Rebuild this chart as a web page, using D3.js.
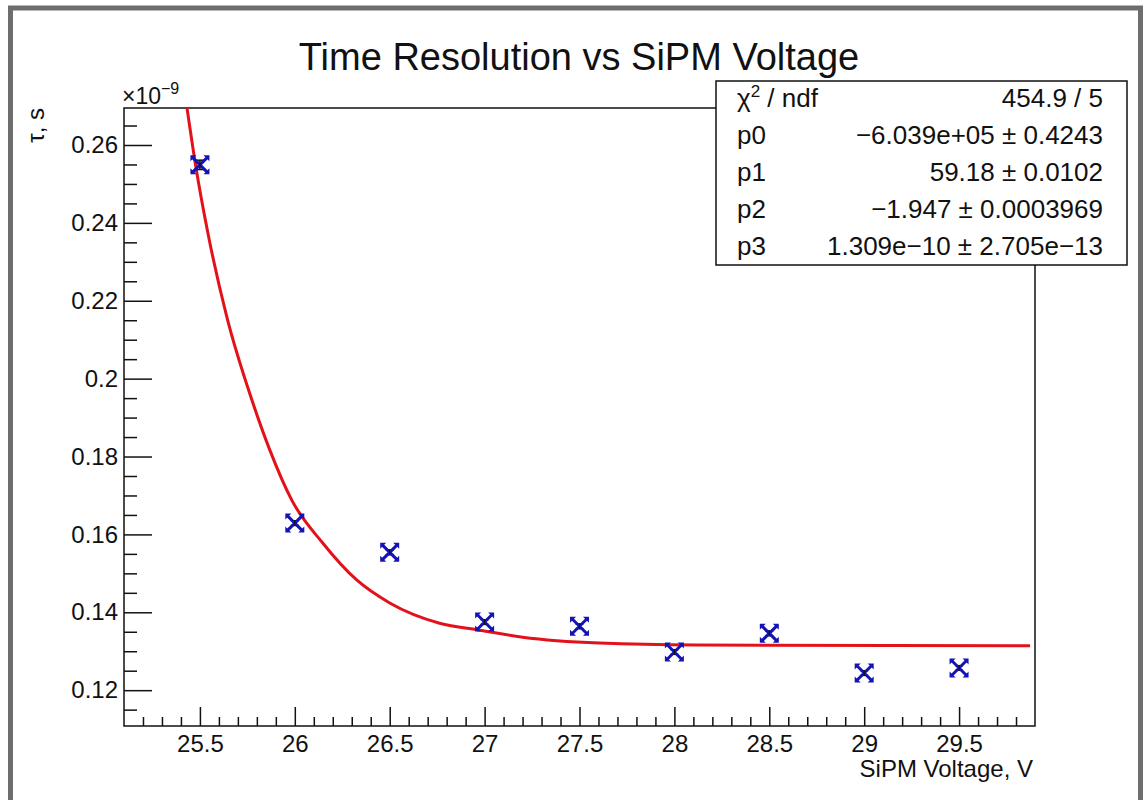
<!DOCTYPE html>
<html>
<head>
<meta charset="utf-8">
<script src="https://cdn.jsdelivr.net/npm/d3@7"></script>
<style>
  body { margin: 0; background: #fff; }
  svg { font-family: "Liberation Sans", Arial, sans-serif; }
</style>
</head>
<body>
<script>
// Time resolution vs SiPM voltage, fitted curve in red

// measured points (tau in units of 1e-9 s)
var voltages = [25.5, 26, 26.5, 27, 27.5, 28, 28.5, 29, 29.5];
var tauValues = [0.2549, 0.1629, 0.1554, 0.1375, 0.1364, 0.1298, 0.1346, 0.1244, 0.1257];
var tauErrors = [0.0012, 0.0006, 0.0006, 0.0006, 0.0006, 0.0006, 0.0006, 0.0006, 0.0006];

// fit curve
var fitVoltages = [25.432, 25.479, 25.542, 25.642, 25.774, 25.868, 25.984, 26.147, 26.326,
                   26.5, 26.763, 26.974, 27.2, 27.605, 28.116, 29.874];
var fitTau = [0.2695, 0.2543, 0.2374, 0.2158, 0.1945, 0.1817, 0.1688, 0.1578, 0.1483,
              0.1424, 0.1372, 0.1354, 0.1336, 0.1321, 0.1316, 0.1314];

// axis ticks
var xTicks = [25.5, 26, 26.5, 27, 27.5, 28, 28.5, 29, 29.5];
var xTickLabels = ["25.5", "26", "26.5", "27", "27.5", "28", "28.5", "29", "29.5"];
var yTicks = [0.12, 0.14, 0.16, 0.18, 0.2, 0.22, 0.24, 0.26];
var yTickLabels = ["0.12", "0.14", "0.16", "0.18", "0.2", "0.22", "0.24", "0.26"];

// fit statistics box
var statNames = ["p0", "p1", "p2", "p3"];
var statValues = ["\u22126.039e+05 \u00b1 0.4243", "59.18 \u00b1 0.0102",
                  "\u22121.947 \u00b1 0.0003969", "1.309e\u221210 \u00b1 2.705e\u221213"];
var chiValue = "454.9 / 5";

var points = voltages.map(function(v, i) {
  return {v: v, tau: tauValues[i], err: tauErrors[i]};
});
var fitPoints = fitVoltages.map(function(v, i) {
  return {v: v, tau: fitTau[i]};
});

var W = 1145, H = 800;
// plot frame (note: "top" is taken by window.top)
var frameLeft = 124, frameRight = 1035, frameTop = 108, frameBottom = 726;

var svg = d3.select("body")
  .append("svg")
  .attr("width", W)
  .attr("height", H);

// canvas border
svg.append("rect")
  .attr("x", 10.5).attr("y", 8)
  .attr("width", 1130).attr("height", 830)
  .attr("fill", "#fff")
  .attr("stroke", "#6e6e6e")
  .attr("stroke-width", 5);

var xScale = d3.scaleLinear().domain([25.1, 29.9]).range([frameLeft, frameRight]);
var yScale = d3.scaleLinear().domain([0.1108, 0.2695]).range([frameBottom, frameTop]);

// frame
svg.append("rect")
  .attr("x", frameLeft).attr("y", frameTop)
  .attr("width", frameRight - frameLeft).attr("height", frameBottom - frameTop)
  .attr("fill", "none")
  .attr("stroke", "#111")
  .attr("stroke-width", 1.5);

// minor ticks
var xMinor = d3.range(25.2, 29.85, 0.1).filter(function(d) {
  return Math.abs(d * 2 - Math.round(d * 2)) > 0.01;
});
var yMinor = d3.range(0.115, 0.2695, 0.005).filter(function(d) {
  return Math.abs(d * 50 - Math.round(d * 50)) > 0.01;
});

svg.append("g")
  .attr("transform", "translate(0," + frameBottom + ")")
  .call(d3.axisBottom(xScale).tickValues(xMinor).tickSize(-9).tickFormat(""))
  .call(function(g) { g.select(".domain").remove(); });
svg.append("g")
  .attr("transform", "translate(" + frameLeft + ",0)")
  .call(d3.axisLeft(yScale).tickValues(yMinor).tickSize(-13).tickFormat(""))
  .call(function(g) { g.select(".domain").remove(); });

// major ticks + labels
var xAxis = svg.append("g")
  .attr("transform", "translate(0," + frameBottom + ")")
  .call(d3.axisBottom(xScale)
    .tickValues(xTicks)
    .tickSize(-19)
    .tickPadding(9)
    .tickFormat(function(d, i) { return xTickLabels[i]; }));
xAxis.select(".domain").remove();
xAxis.selectAll("text").attr("font-size", 24).attr("fill", "#111")
  .attr("font-family", "Liberation Sans, Arial, sans-serif");

var yAxis = svg.append("g")
  .attr("transform", "translate(" + frameLeft + ",0)")
  .call(d3.axisLeft(yScale)
    .tickValues(yTicks)
    .tickSize(-28)
    .tickPadding(6)
    .tickFormat(function(d, i) { return yTickLabels[i]; }));
yAxis.select(".domain").remove();
yAxis.selectAll("text").attr("font-size", 24).attr("fill", "#111")
  .attr("font-family", "Liberation Sans, Arial, sans-serif");

svg.selectAll(".tick line").attr("stroke", "#111").attr("stroke-width", 1.5);

// fit curve
var line = d3.line()
  .x(function(d) { return xScale(d.v); })
  .y(function(d) { return yScale(d.tau); })
  .curve(d3.curveMonotoneX);

svg.append("path")
  .datum(fitPoints)
  .attr("d", line)
  .attr("fill", "none")
  .attr("stroke", "#e3121a")
  .attr("stroke-width", 3);

// error bars
var bars = svg.selectAll(".err")
  .data(points)
  .enter()
  .append("g")
  .attr("class", "err")
  .attr("stroke", "#111")
  .attr("stroke-width", 1.5);
bars.append("line")
  .attr("x1", function(d) { return xScale(d.v); })
  .attr("x2", function(d) { return xScale(d.v); })
  .attr("y1", function(d) { return yScale(d.tau + d.err); })
  .attr("y2", function(d) { return yScale(d.tau - d.err); });
bars.append("line")
  .attr("x1", function(d) { return xScale(d.v) - 4; })
  .attr("x2", function(d) { return xScale(d.v) + 4; })
  .attr("y1", function(d) { return yScale(d.tau + d.err); })
  .attr("y2", function(d) { return yScale(d.tau + d.err); });
bars.append("line")
  .attr("x1", function(d) { return xScale(d.v) - 4; })
  .attr("x2", function(d) { return xScale(d.v) + 4; })
  .attr("y1", function(d) { return yScale(d.tau - d.err); })
  .attr("y2", function(d) { return yScale(d.tau - d.err); });

// blue x markers with flared ends
var marker = svg.selectAll(".mark")
  .data(points)
  .enter()
  .append("g")
  .attr("class", "mark")
  .attr("transform", function(d) {
    return "translate(" + xScale(d.v) + "," + yScale(d.tau) + ")";
  });
marker.append("path")
  .attr("d", "M-7,-7L7,7M-7,7L7,-7")
  .attr("stroke", "#1414b4")
  .attr("stroke-width", 3);
[[-1, -1], [1, -1], [1, 1], [-1, 1]].forEach(function(s) {
  marker.append("path")
    .attr("d", "M" + (s[0] * 9.5) + "," + (s[1] * 9.5) +
               "L" + (s[0] * 9.5) + "," + (s[1] * 3.5) +
               "L" + (s[0] * 3.5) + "," + (s[1] * 9.5) + "Z")
    .attr("fill", "#1414b4");
});
marker.append("line")
  .attr("x1", 0).attr("x2", 0).attr("y1", -3).attr("y2", 3)
  .attr("stroke", "#111").attr("stroke-width", 1.2);

// title
svg.append("text")
  .attr("x", 579).attr("y", 70)
  .attr("text-anchor", "middle")
  .attr("font-size", 38)
  .attr("fill", "#111")
  .text("Time Resolution vs SiPM Voltage");

// exponent above y axis
var expo = svg.append("text")
  .attr("x", 122).attr("y", 104)
  .attr("font-size", 23)
  .attr("fill", "#111");
expo.append("tspan").text("\u00d710");
expo.append("tspan").attr("dy", -10).attr("font-size", 16).text("\u22129");

// axis titles
svg.append("text")
  .attr("x", 1033).attr("y", 777)
  .attr("text-anchor", "end")
  .attr("font-size", 24)
  .attr("fill", "#111")
  .text("SiPM Voltage, V");

svg.append("text")
  .attr("transform", "translate(44,108)rotate(-90)")
  .attr("text-anchor", "end")
  .attr("font-size", 24)
  .attr("fill", "#111")
  .text("\u03c4, s");

// stats box
var box = svg.append("g");
box.append("rect")
  .attr("x", 716).attr("y", 81)
  .attr("width", 411).attr("height", 184)
  .attr("fill", "#fff")
  .attr("stroke", "#111")
  .attr("stroke-width", 1.5);

var chi = box.append("text")
  .attr("x", 737).attr("y", 107)
  .attr("font-size", 26)
  .attr("fill", "#111");
chi.append("tspan").text("\u03c7");
chi.append("tspan").attr("dy", -10).attr("font-size", 17).text("2");
chi.append("tspan").attr("dy", 10).text(" / ndf");

box.append("text")
  .attr("x", 1103).attr("y", 107)
  .attr("text-anchor", "end")
  .attr("font-size", 26)
  .attr("fill", "#111")
  .text(chiValue);

box.selectAll(".pname")
  .data(statNames)
  .enter()
  .append("text")
  .attr("class", "pname")
  .attr("x", 737)
  .attr("y", function(d, i) { return 144 + i * 37; })
  .attr("font-size", 26)
  .attr("fill", "#111")
  .text(function(d) { return d; });

box.selectAll(".pval")
  .data(statValues)
  .enter()
  .append("text")
  .attr("class", "pval")
  .attr("x", 1103)
  .attr("y", function(d, i) { return 144 + i * 37; })
  .attr("text-anchor", "end")
  .attr("font-size", 26)
  .attr("fill", "#111")
  .text(function(d) { return d; });
</script>
</body>
</html>
